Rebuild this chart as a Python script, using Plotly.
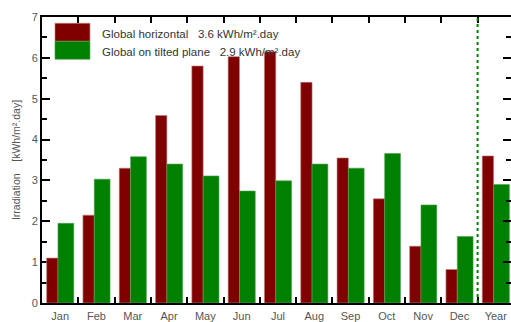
import plotly.graph_objects as go

# Monthly irradiation values [kWh/m².day]
months = ["Jan", "Feb", "Mar", "Apr", "May", "Jun",
          "Jul", "Aug", "Sep", "Oct", "Nov", "Dec"]
year_label = "Year"
global_horizontal = [1.10, 2.15, 3.30, 4.59, 5.80, 6.03, 6.15, 5.40, 3.55, 2.55, 1.39, 0.82]
global_tilted = [1.95, 3.03, 3.58, 3.40, 3.11, 2.74, 2.99, 3.40, 3.30, 3.66, 2.40, 1.63]
annual_horizontal = 3.6
annual_tilted = 2.9
series_names = ["Global horizontal", "Global on tilted plane"]
y_ticks = [0, 1, 2, 3, 4, 5, 6, 7]

categories = months + [year_label]
horiz_values = global_horizontal + [annual_horizontal]
tilted_values = global_tilted + [annual_tilted]

RED = "#800000"
GREEN = "#008000"
TEXT = "#555555"
FONT = "Liberation Sans, Arial, sans-serif"

fig = go.Figure()
fig.add_trace(go.Bar(
    x=categories, y=horiz_values, name=series_names[0],
    offset=-0.372, width=0.312,
    marker=dict(color=RED, line=dict(color="#c08080", width=0.6)),
    showlegend=False,
))
fig.add_trace(go.Bar(
    x=categories, y=tilted_values, name=series_names[1],
    offset=-0.06, width=0.435,
    marker=dict(color=GREEN, line=dict(color="#50a050", width=0.6)),
    showlegend=False,
))

fig.update_layout(
    width=511, height=322,
    margin=dict(l=42, r=0, t=17, b=15),
    paper_bgcolor="white", plot_bgcolor="white",
    barmode="overlay",
    font=dict(family=FONT, size=11, color=TEXT),
    xaxis=dict(
        type="category", range=[-0.5, 12.42],
        showline=True, linecolor="black", linewidth=2,
        mirror="ticks", ticks="inside", ticklen=6, tickwidth=1.5,
        tickcolor="black", tickson="boundaries",
        showgrid=False, zeroline=False, layer="below traces",
        tickfont=dict(size=11, color=TEXT), ticklabelstandoff=2,
    ),
    yaxis=dict(
        range=[0, 7], tickvals=y_ticks,
        showline=True, linecolor="black", linewidth=2,
        ticks="inside", ticklen=8, tickwidth=1.5, tickcolor="black",
        minor=dict(dtick=0.5, ticks="inside", ticklen=5, tickwidth=1.5,
                   tickcolor="black", showgrid=False),
        showgrid=False, zeroline=False, layer="below traces",
        tickfont=dict(size=11, color=TEXT),
        title=dict(text="Irradiation\u00a0\u00a0\u00a0\u00a0[kWh/m².day]",
                   font=dict(size=10.5, color=TEXT), standoff=9),
    ),
    yaxis2=dict(
        overlaying="y", side="right", anchor="x", range=[0, 7],
        tickvals=y_ticks, showticklabels=False, showline=False,
        ticks="inside", ticklen=8, tickwidth=1.5, tickcolor="black",
        minor=dict(dtick=0.5, ticks="inside", ticklen=5, tickwidth=1.5,
                   tickcolor="black", showgrid=False),
        showgrid=False, zeroline=False,
    ),
)

# Empty trace so the right-hand tick axis is drawn
fig.add_trace(go.Scatter(x=[], y=[], yaxis="y2", showlegend=False))

# Dotted separator between the months and the annual bar
sep_x = len(months) - 0.5
fig.add_shape(type="line", xref="x", yref="y", x0=sep_x, x1=sep_x, y0=0, y1=7,
              line=dict(color=GREEN, width=2, dash="dot"))

# Legend block: colour swatches and labels with annual averages
fig.add_shape(type="rect", xref="paper", yref="paper",
              x0=0.0277, x1=0.1023, y0=0.915, y1=0.978,
              fillcolor=RED, line=dict(color="#c08080", width=0.6))
fig.add_shape(type="rect", xref="paper", yref="paper",
              x0=0.0277, x1=0.1023, y0=0.852, y1=0.915,
              fillcolor=GREEN, line=dict(color="#50a050", width=0.6))

sp = "\u00a0\u00a0\u00a0"
fig.add_annotation(xref="paper", yref="paper", x=0.1237, y=0.94,
                   xanchor="left", yanchor="middle", showarrow=False,
                   text=f"{series_names[0]}{sp}{annual_horizontal:.1f} kWh/m².day",
                   font=dict(size=11.5, color="#333333"))
fig.add_annotation(xref="paper", yref="paper", x=0.1237, y=0.879,
                   xanchor="left", yanchor="middle", showarrow=False,
                   text=f"{series_names[1]}{sp}{annual_tilted:.1f} kWh/m².day",
                   font=dict(size=11.5, color="#333333"))

fig.write_html("out.html")
